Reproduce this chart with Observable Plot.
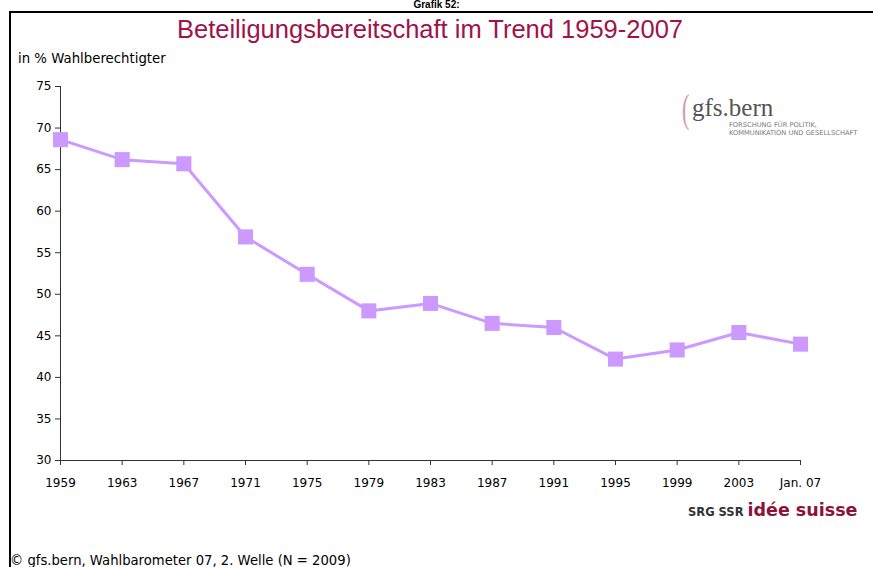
<!DOCTYPE html>
<html><head><meta charset="utf-8">
<script src="https://cdn.jsdelivr.net/npm/d3@7"></script>
<script src="https://cdn.jsdelivr.net/npm/@observablehq/plot@0.6"></script>
<style>
body{margin:0;background:#fff;width:873px;height:567px;overflow:hidden;}
#wrap{position:relative;width:873px;height:567px;}
#wrap svg{position:absolute;left:0;top:0;}
.abs{position:absolute;white-space:nowrap;}
</style></head>
<body><div id="wrap">
<div class="abs" style="left:0;width:873px;top:-1px;text-align:center;font:bold 10px/11px 'Liberation Sans',Arial;color:#000;">Grafik 52:</div>
<div class="abs" style="left:9px;top:11px;width:864px;height:2px;background:#000;"></div>
<div class="abs" style="left:9px;top:11px;width:2px;height:556px;background:#000;"></div>
<div class="abs" style="left:0;width:860px;top:15px;text-align:center;font:25.5px 'Liberation Sans Narrow','Liberation Sans',Arial;color:#a0134a;">Beteiligungsbereitschaft im Trend 1959-2007</div>
<div class="abs" style="left:18px;top:51px;font:13.3px 'DejaVu Sans',sans-serif;color:#000;">in % Wahlberechtigter</div>
<div class="abs" style="left:10px;top:553px;font:13.2px 'DejaVu Sans',sans-serif;color:#000;">© gfs.bern, Wahlbarometer 07, 2. Welle (N = 2009)</div>
<div class="abs" style="left:682px;top:85px;font:40px 'Liberation Serif',serif;color:#d49aae;transform:scaleX(0.55);transform-origin:left;">(</div>
<div class="abs" style="left:692px;top:94px;font:25px 'Liberation Serif','DejaVu Serif',serif;color:#555;">gfs.bern</div>
<div class="abs" style="left:729px;top:122px;font:6.7px 'DejaVu Sans',sans-serif;color:#777;line-height:7.5px;">FORSCHUNG FÜR POLITIK,<br>KOMMUNIKATION UND GESELLSCHAFT</div>
<div class="abs" style="left:688px;top:500px;font:bold 11.5px 'DejaVu Sans',sans-serif;color:#333;">SRG SSR <span style="font-size:17.5px;color:#8e1238;">idée suisse</span></div>
</div>
<script>
const years = ["1959","1963","1967","1971","1975","1979","1983","1987","1991","1995","1999","2003","Jan. 07"];
const values = [68.6, 66.2, 65.7, 56.9, 52.4, 48.0, 48.9, 46.5, 46.0, 42.2, 43.3, 45.4, 44.0];
const yTicks = [30, 35, 40, 45, 50, 55, 60, 65, 70, 75];
const data = years.map((y, i) => ({year: y, value: values[i]}));
const col = "#cc99ff";
const chart = Plot.plot({
  width: 873, height: 567,
  marginLeft: 60, marginRight: 73, marginTop: 86, marginBottom: 107,
  style: {fontFamily: "'DejaVu Sans', sans-serif", fontSize: "12px", color: "#000", background: "transparent"},
  x: {type: "point", domain: years, padding: 0, round: false, label: null},
  y: {domain: [30, 75], ticks: yTicks, label: null},
  marks: [
    Plot.axisY({ticks: yTicks, tickSize: 5, tickPadding: 4, stroke: "#333", label: null}),
    Plot.axisX({tickSize: 5, tickPadding: 13, stroke: "#333", label: null}),
    Plot.ruleX([years[0]], {stroke: "#333"}),
    Plot.ruleY([30], {stroke: "#333"}),
    Plot.line(data, {x: "year", y: "value", stroke: col, strokeWidth: 3}),
    Plot.dot(data, {x: "year", y: "value", symbol: "square", r: 8.5, fill: col, stroke: "none"})
  ]
});
document.getElementById("wrap").prepend(chart);
</script>
</body></html>
